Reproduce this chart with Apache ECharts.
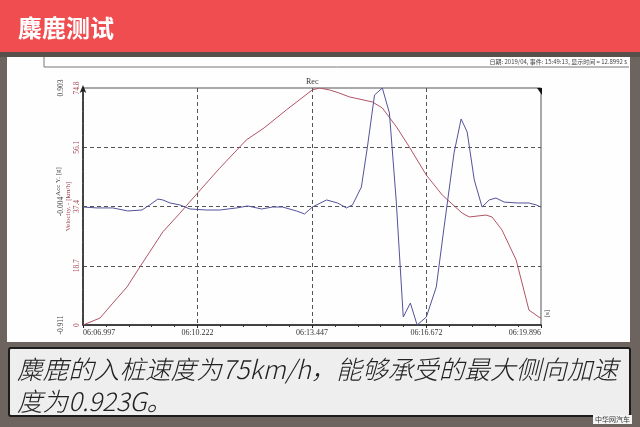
<!DOCTYPE html>
<html><head><meta charset="utf-8">
<script src="https://cdn.jsdelivr.net/npm/echarts/dist/echarts.min.js"></script>
<style>
html,body{margin:0;padding:0;width:640px;height:427px;overflow:hidden;background:#6d645f;}
.bg{position:absolute;box-sizing:border-box;}
#bgHeader{left:0;top:0;width:640px;height:52px;background:#f04d50;}
#bgShadow{left:0;top:52px;width:640px;height:5px;background:#57504b;}
#bgPanel{left:7px;top:57px;width:623px;height:285px;background:#fefefe;}
#bgCaption{left:8px;top:347px;width:623px;height:70px;background:#efeeee;border:2px solid #1c1c1c;border-radius:3px;}
#chart{position:absolute;left:0;top:0;width:640px;height:427px;}
</style></head>
<body>
<div class="bg" id="bgHeader"></div>
<div class="bg" id="bgShadow"></div>
<div class="bg" id="bgPanel"></div>
<div class="bg" id="bgCaption"></div>
<div id="chart"></div>
<script>
// ---- data ----
const xTickLabels = ['06:06.997', '06:10.222', '06:13.447', '06:16.672', '06:19.896'];
const displaySpan = 12.8992; // seconds shown
const velTicks = [0, 18.7, 37.4, 56.1, 74.8];
const accTicks = [-0.911, -0.004, 0.903];

const velTime = [0, 0.48, 0.84, 1.24, 1.6, 2.25, 2.73, 3.23, 3.85, 4.6, 5.1, 5.73, 6.46, 6.66, 6.94, 7.22, 7.5, 8.15, 8.43, 8.83, 9.19, 9.67, 10.12, 10.68, 10.88, 11.35, 11.52, 11.8, 12.2, 12.56, 12.84, 12.9];
const velValues = [0, 2.2, 6.9, 12, 18.3, 29.4, 35.3, 41.7, 49.5, 58.4, 62.2, 67.9, 74.2, 74.8, 74.2, 73.2, 72, 70.4, 68.5, 62.5, 56.2, 47.3, 41, 35.3, 34.1, 34.7, 34.1, 30, 20.5, 4.7, 2.5, 2.2];

const accTime = [0, 0.39, 0.84, 1.26, 1.66, 1.88, 2.11, 2.25, 2.45, 2.73, 3.01, 3.48, 3.85, 4.33, 4.64, 5.03, 5.34, 5.62, 6.01, 6.24, 6.46, 6.86, 7.17, 7.42, 7.59, 7.84, 8.01, 8.21, 8.43, 8.63, 8.82, 9.02, 9.22, 9.41, 9.67, 9.95, 10.17, 10.45, 10.65, 10.82, 11.02, 11.24, 11.44, 11.63, 11.86, 12.23, 12.56, 12.76, 12.9];
const accValues = [-0.008, -0.015, -0.015, -0.038, -0.031, 0.008, 0.053, 0.046, 0.023, 0.008, -0.023, -0.031, -0.031, -0.015, 0.0, -0.023, -0.008, -0.008, -0.038, -0.061, -0.008, 0.046, 0.023, -0.015, 0.008, 0.145, 0.451, 0.849, 0.903, 0.712, 0.046, -0.85, -0.743, -0.911, -0.85, -0.62, -0.161, 0.406, 0.666, 0.566, 0.199, -0.008, 0.046, 0.061, 0.03, 0.023, 0.023, 0.008, -0.008];

const velData = velTime.map((t, i) => [t, velValues[i]]);
const accData = accTime.map((t, i) => [t, accValues[i]]);
const xStep = displaySpan / (xTickLabels.length - 1);

const chart = echarts.init(document.getElementById('chart'), null, {renderer: 'canvas'});
const serif = 'Liberation Serif';
const nearest = (arr, v) => arr.reduce((b, c) => Math.abs(c - v) < Math.abs(b - v) ? c : b, arr[0]);

chart.setOption({
  backgroundColor: 'transparent',
  animation: false,
  title: {
    text: '麋鹿测试', left: 13, top: 11,
    textStyle: {color: '#ffffff', fontSize: 24, fontWeight: 'bold', fontFamily: 'Noto Sans CJK SC'}
  },
  grid: {
    left: 83, right: 99, top: 88, bottom: 102,
    show: true, borderColor: '#555', borderWidth: 1, backgroundColor: 'transparent',
    containLabel: false, outerBoundsMode: 'none'
  },
  xAxis: {
    type: 'value', min: 0, max: displaySpan, interval: xStep,
    axisLine: {show: true, onZero: false, lineStyle: {color: '#222', width: 1.5}},
    axisTick: {show: true, length: 3, lineStyle: {color: '#222'}},
    minorTick: {show: true, splitNumber: 5, length: 2, lineStyle: {color: '#333'}},
    splitLine: {show: true, showMinLine: false, showMaxLine: false, lineStyle: {type: [4, 3], color: '#555', width: 1}},
    axisLabel: {
      fontSize: 8, color: '#333', fontFamily: serif, margin: 4,
      alignMinLabel: 'left', alignMaxLabel: 'right',
      formatter: v => xTickLabels[Math.round(v / xStep)]
    }
  },
  yAxis: [
    {
      type: 'value', position: 'left', min: velTicks[0], max: velTicks[velTicks.length - 1], interval: velTicks[1] - velTicks[0],
      name: 'Velocity. - [km/h]', nameLocation: 'middle', nameRotate: 90, nameGap: 11, nameMoveOverlap: false,
      nameTextStyle: {color: '#a04050', fontSize: 7, fontFamily: serif, padding: [0, 0, 0, 0]},
      axisLine: {show: true, lineStyle: {color: '#222', width: 1.5}, symbol: ['none', 'arrow'], symbolSize: [5, 8], symbolOffset: [0, 3]},
      axisTick: {show: false},
      minorTick: {show: true, splitNumber: 5, length: 1, lineStyle: {color: '#666'}},
      splitLine: {show: true, showMinLine: false, showMaxLine: false, lineStyle: {type: [4, 3], color: '#555', width: 1}},
      axisLabel: {rotate: 90, fontSize: 7.5, color: '#a84a55', fontFamily: serif, margin: 2,
        formatter: v => String(nearest(velTicks, v))}
    },
    {
      type: 'value', position: 'left', offset: 16, min: accTicks[0], max: accTicks[accTicks.length - 1], interval: (accTicks[2] - accTicks[0]) / 2,
      name: 'Acc Y. [g]', nameLocation: 'middle', nameRotate: 90, nameGap: 5, nameMoveOverlap: false,
      nameTextStyle: {color: '#444', fontSize: 7, fontFamily: serif, padding: [0, 0, 0, 50]},
      axisLine: {show: false}, axisTick: {show: false}, splitLine: {show: false},
      axisLabel: {rotate: 90, fontSize: 7.5, color: '#444', fontFamily: serif, margin: 2,
        formatter: v => nearest(accTicks, v).toFixed(3)}
    }
  ],
  series: [
    {
      name: 'Velocity', type: 'line', yAxisIndex: 0, data: velData,
      showSymbol: false, symbol: 'none', lineStyle: {color: '#b05565', width: 1}, z: 3
    },
    {
      name: 'Acc Y', type: 'line', yAxisIndex: 1, data: accData,
      showSymbol: false, symbol: 'none', lineStyle: {color: '#52529a', width: 1}, z: 4
    }
  ],
  graphic: [
    {type: 'line', shape: {x1: 44, y1: 67, x2: 629, y2: 67}, style: {stroke: '#777', lineWidth: 1}},
    {type: 'line', shape: {x1: 44, y1: 57, x2: 44, y2: 67}, style: {stroke: '#777', lineWidth: 1}},
    {type: 'text', x: 627, y: 59, style: {text: '日期: 2019/04, 事件: 15:49:13, 显示时间 = 12.8992 s', fontSize: 6, fill: '#444', align: 'right', fontFamily: 'Noto Sans CJK SC'}},
    {type: 'text', x: 306, y: 78, style: {text: 'Rec', fontSize: 8, fill: '#333', fontFamily: serif}},
    {type: 'polygon', shape: {points: [[537, 88], [542, 88], [542, 95]]}, style: {fill: '#111'}},
    {type: 'text', x: 551, y: 310, rotation: -Math.PI / 2, style: {text: '[s]', fontSize: 7, fill: '#333', fontFamily: serif}},
    {type: 'text', x: 17, y: 356, style: {text: '麋鹿的入桩速度为75km/h，能够承受的最大侧向加速', fontSize: 25.6, fontStyle: 'italic', fontWeight: 300, fill: '#222', fontFamily: 'Noto Sans CJK SC'}},
    {type: 'text', x: 17, y: 388, style: {text: '度为0.923G。', fontSize: 25.6, fontStyle: 'italic', fontWeight: 300, fill: '#222', fontFamily: 'Noto Sans CJK SC'}},
    {type: 'text', x: 593, y: 415, style: {text: '中华网汽车', fontSize: 7, fill: '#333', backgroundColor: '#f4f4f4', padding: [1, 2], fontFamily: 'Noto Sans CJK SC'}}
  ]
});
</script>
</body></html>
